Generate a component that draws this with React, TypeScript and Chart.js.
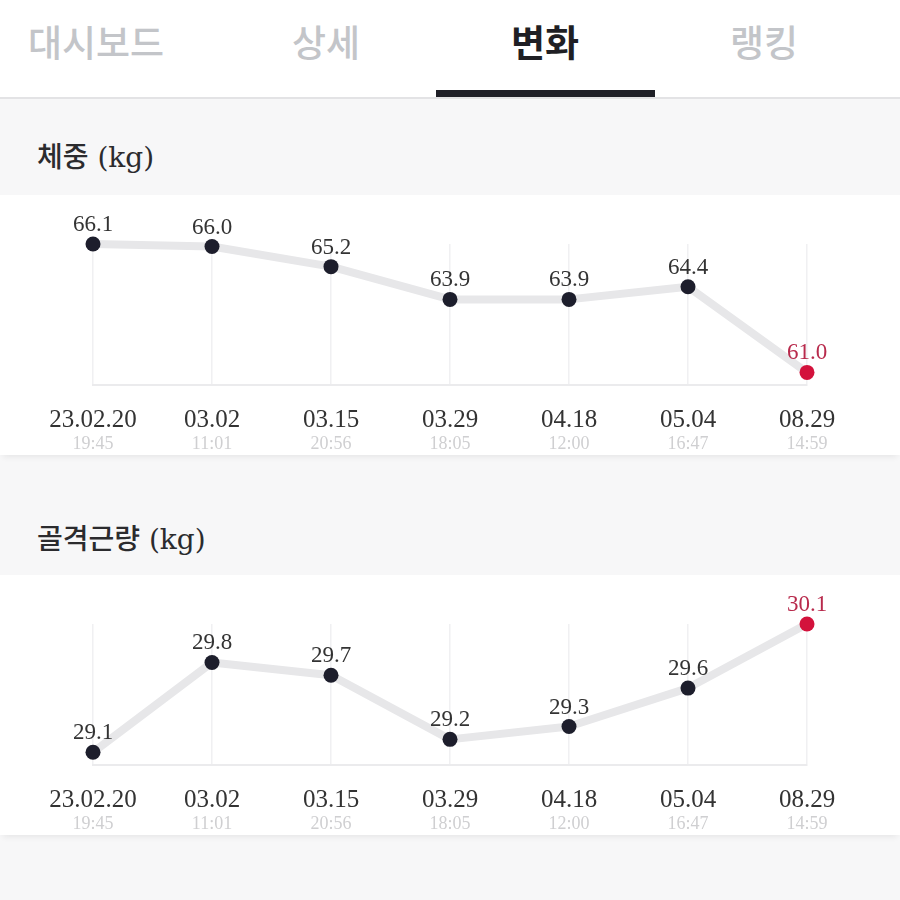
import React, { useEffect, useRef } from "react";
import { Chart, registerables } from "chart.js";

Chart.register(...registerables);

const dates = ["23.02.20", "03.02", "03.15", "03.29", "04.18", "05.04", "08.29"];
const times = ["19:45", "11:01", "20:56", "18:05", "12:00", "16:47", "14:59"];
const weightValues = [66.1, 66.0, 65.2, 63.9, 63.9, 64.4, 61.0];
const muscleValues = [29.1, 29.8, 29.7, 29.2, 29.3, 29.6, 30.1];
const tabs = ["대시보드", "상세", "변화", "랭킹"];
const activeTab = 2;

const SERIF = '"Liberation Serif", "Noto Sans CJK KR", serif';
const TITLE_FONT = '"DejaVu Serif", "Noto Sans CJK KR", serif';
const DARK = "#1d1e2c";
const RED = "#d3123c";
const RED_TEXT = "#b82a4c";

const labelPlugin = {
  id: "valueLabels",
  afterDatasetsDraw(chart: any) {
    const ctx = chart.ctx;
    const meta = chart.getDatasetMeta(0);
    const data = chart.data.datasets[0].data as number[];
    ctx.save();
    ctx.font = `23px ${SERIF}`;
    ctx.textAlign = "center";
    ctx.textBaseline = "alphabetic";
    meta.data.forEach((pt: any, i: number) => {
      ctx.fillStyle = i === data.length - 1 ? RED_TEXT : "#333333";
      ctx.fillText(data[i].toFixed(1), pt.x, pt.y - 13);
    });
    ctx.restore();
  },
};

function LineCard({ values, min, max }: { values: number[]; min: number; max: number }) {
  const ref = useRef<HTMLCanvasElement | null>(null);
  useEffect(() => {
    if (!ref.current) return;
    const chart = new Chart(ref.current, {
      type: "line",
      data: {
        labels: dates,
        datasets: [
          {
            data: values,
            borderColor: "#e7e7e9",
            borderWidth: 8,
            borderJoinStyle: "round",
            tension: 0,
            pointRadius: 7.5,
            pointHoverRadius: 7.5,
            pointBorderWidth: 0,
            pointBackgroundColor: values.map((_, i) => (i === values.length - 1 ? RED : DARK)),
            clip: false,
          } as any,
        ],
      },
      options: {
        responsive: false,
        animation: false,
        devicePixelRatio: 1,
        events: [],
        layout: { padding: { top: 49, left: 93, right: 93, bottom: 0 } },
        plugins: { legend: { display: false }, tooltip: { enabled: false } },
        scales: {
          x: {
            type: "category",
            offset: false,
            position: "bottom",
            weight: 0,
            grid: { display: true, color: "#f0f0f2", lineWidth: 1.5, drawTicks: false },
            border: { display: true, color: "#ebebed", width: 2 },
            ticks: {
              color: "#333333",
              font: { family: SERIF, size: 25 },
              padding: 20,
              maxRotation: 0,
              autoSkip: false,
            },
            afterFit: (s: any) => {
              s.height = 42;
            },
          },
          x2: {
            type: "category",
            labels: times,
            offset: false,
            position: "bottom",
            weight: 1,
            grid: { display: false, drawTicks: false },
            border: { display: false },
            ticks: {
              color: "#cfcfd1",
              font: { family: SERIF, size: 18 },
              padding: 6,
              maxRotation: 0,
              autoSkip: false,
            },
            afterFit: (s: any) => {
              s.height = 28;
            },
          },
          y: { display: false, min, max },
        },
      } as any,
      plugins: [labelPlugin],
    });
    return () => chart.destroy();
  }, [values, min, max]);
  return <canvas ref={ref} width={900} height={260} style={{ display: "block", width: 900, height: 260 }} />;
}

const titleStyle = (top: number): React.CSSProperties => ({
  position: "absolute",
  left: 37,
  top,
  height: 40,
  lineHeight: "40px",
  fontFamily: TITLE_FONT,
  fontSize: 28,
  fontWeight: 500,
  color: "#2b2b2e",
  whiteSpace: "nowrap",
});

const cardStyle = (top: number): React.CSSProperties => ({
  position: "absolute",
  left: 0,
  top,
  width: 900,
  height: 260,
  background: "#ffffff",
  boxShadow: "0 5px 6px -3px rgba(0,0,0,0.07)",
});

export default function App() {
  useEffect(() => {
    document.body.style.margin = "0";
  }, []);
  const tabCenters = [96, 326, 545, 764];
  return (
    <div style={{ position: "relative", width: 900, height: 900, background: "#f7f7f8", overflow: "hidden" }}>
      <div style={{ position: "absolute", left: 0, top: 0, width: 900, height: 97, background: "#ffffff" }}>
        {tabs.map((t, i) => (
          <div
            key={t}
            style={{
              position: "absolute",
              left: tabCenters[i] - 110,
              width: 220,
              top: 13,
              height: 56,
              lineHeight: "56px",
              textAlign: "center",
              fontFamily: '"Noto Sans CJK KR", sans-serif',
              fontSize: 37,
              fontWeight: i === activeTab ? 700 : 500,
              color: i === activeTab ? "#1f1f24" : "#c3c5c9",
            }}
          >
            {t}
          </div>
        ))}
        <div style={{ position: "absolute", left: 436, top: 90, width: 219, height: 7, background: "#1f2027" }} />
      </div>
      <div style={{ position: "absolute", left: 0, top: 97, width: 900, height: 2, background: "#e3e3e5" }} />

      <div style={titleStyle(138)}>체중 (kg)</div>
      <div style={cardStyle(195)}>
        <LineCard values={weightValues} min={60.5} max={66.1} />
      </div>

      <div style={titleStyle(520)}>골격근량 (kg)</div>
      <div style={cardStyle(575)}>
        <LineCard values={muscleValues} min={29.0} max={30.1} />
      </div>
    </div>
  );
}
